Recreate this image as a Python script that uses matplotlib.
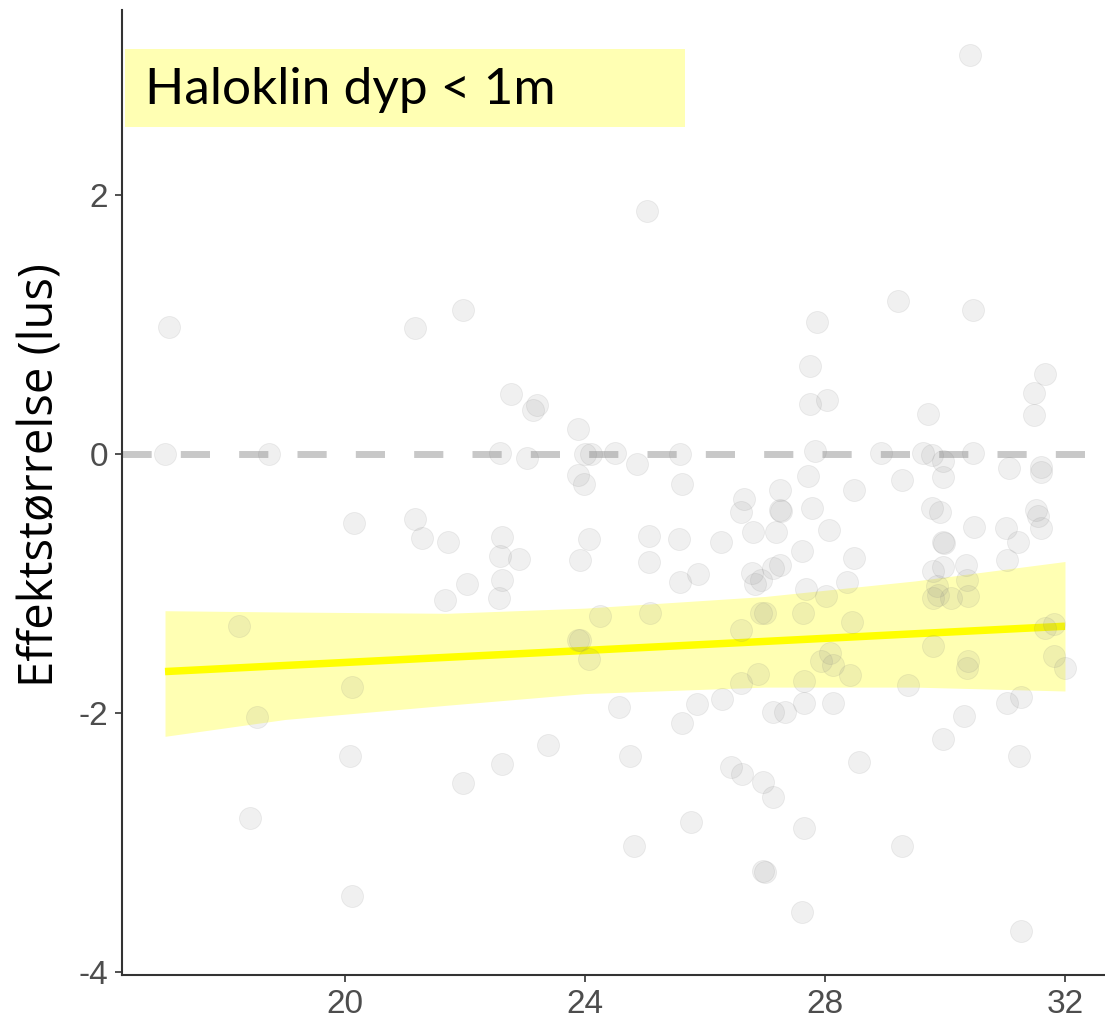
import matplotlib
matplotlib.use("Agg")
import matplotlib.pyplot as plt
from matplotlib.patches import Rectangle

salt = [17.06, 21.17, 17.00, 18.73, 20.15, 21.17, 21.29, 21.72, 21.67, 18.23,
        20.11, 18.54, 20.08, 18.42, 20.11, 21.97, 22.77, 23.14, 23.20, 23.89,
        22.58, 23.04, 24.00, 24.10, 24.50, 24.87, 25.58, 23.89, 23.98, 25.61,
        26.65, 26.60, 26.80, 22.62, 22.58, 22.90, 24.07, 23.92, 25.06, 25.06,
        25.56, 26.27, 22.62, 22.03, 22.56, 25.58, 25.89, 26.78, 26.83, 24.25,
        25.08, 26.94, 26.60, 23.88, 23.92, 24.07, 26.88, 26.60, 24.57, 25.86,
        26.29, 25.61, 23.39, 22.62, 21.97, 24.75, 26.44, 26.61, 25.77, 24.81,
        29.22, 30.46, 27.87, 27.75, 27.75, 28.03, 31.67, 31.48, 31.48, 29.72,
        27.84, 28.94, 29.64, 29.78, 29.96, 30.46, 27.72, 28.49, 29.29, 29.97,
        31.06, 31.60, 31.60, 27.25, 27.25, 27.27, 27.78, 29.78, 29.92, 31.52,
        31.55, 31.60, 27.18, 28.06, 30.49, 31.02, 31.21, 29.96, 29.98, 27.62,
        28.49, 31.04, 27.14, 27.25, 26.94, 29.80, 29.97, 30.35, 28.36, 29.86,
        29.89, 29.80, 30.36, 30.38, 30.10, 27.68, 28.02, 27.00, 27.64, 28.45,
        31.81, 31.67, 29.80, 31.81, 32.00, 30.39, 30.36, 27.94, 28.08, 28.14,
        28.42, 27.65, 29.38, 27.65, 28.14, 27.13, 27.33, 30.31, 31.03, 31.27,
        29.97, 28.57, 31.23, 26.97, 27.13, 27.65, 29.29, 26.97, 27.00, 27.62,
        31.27, 25.03, 30.42]
effect = [0.98, 0.97, 0.00, 0.00, -0.53, -0.50, -0.65, -0.68, -1.13, -1.33,
          -1.80, -2.03, -2.33, -2.81, -3.41, 1.11, 0.46, 0.34, 0.38, 0.19,
          0.01, -0.03, 0.00, 0.00, 0.01, -0.08, 0.00, -0.16, -0.23, -0.23,
          -0.35, -0.45, -0.60, -0.64, -0.79, -0.81, -0.66, -0.82, -0.63, -0.83,
          -0.66, -0.68, -0.97, -1.00, -1.11, -0.99, -0.93, -0.92, -1.00, -1.25,
          -1.23, -1.23, -1.36, -1.44, -1.44, -1.58, -1.70, -1.77, -1.95, -1.93,
          -1.89, -2.08, -2.25, -2.39, -2.54, -2.33, -2.42, -2.47, -2.84, -3.03,
          1.18, 1.11, 1.02, 0.68, 0.39, 0.42, 0.62, 0.47, 0.30, 0.31,
          0.02, 0.01, 0.01, -0.01, -0.05, 0.01, -0.17, -0.28, -0.20, -0.18,
          -0.11, -0.10, -0.14, -0.28, -0.43, -0.44, -0.42, -0.42, -0.45, -0.43,
          -0.48, -0.57, -0.60, -0.59, -0.56, -0.57, -0.68, -0.68, -0.69, -0.75,
          -0.80, -0.82, -0.88, -0.86, -0.97, -0.90, -0.87, -0.86, -0.99, -1.02,
          -1.09, -1.11, -0.97, -1.10, -1.11, -1.04, -1.10, -1.23, -1.23, -1.30,
          -1.31, -1.34, -1.48, -1.56, -1.65, -1.60, -1.65, -1.60, -1.54, -1.63,
          -1.71, -1.75, -1.78, -1.92, -1.92, -1.99, -1.99, -2.02, -1.92, -1.88,
          -2.20, -2.38, -2.33, -2.53, -2.65, -2.89, -3.03, -3.22, -3.23, -3.54,
          -3.68, 1.88, 3.08]

# fitted line and its confidence band
fit_x = [17.0, 19.0, 21.7, 24.0, 27.0, 29.5, 32.0]
fit_y = [-1.68, -1.633, -1.57, -1.517, -1.447, -1.388, -1.33]
ci_hi = [-1.21, -1.22, -1.23, -1.19, -1.10, -0.98, -0.83]
ci_lo = [-2.18, -2.05, -1.94, -1.85, -1.80, -1.80, -1.83]

xticks = [20, 24, 28, 32]
yticks = [-4, -2, 0, 2]
title = "Haloklin dyp < 1m"
ylab = "Effektstørrelse (lus)"

fig = plt.figure(figsize=(11.05, 10.24), dpi=100)
ax = fig.add_axes([0.1104, 0.0479, 0.8896, 0.9423])

ax.axhline(0, color="#c8c8c8", lw=5, dashes=(4.2, 4.2), zorder=1)
ax.fill_between(fit_x, ci_lo, ci_hi, color="#ffffb3", lw=0, zorder=2)
ax.plot(fit_x, fit_y, color="#ffff00", lw=5.4, solid_capstyle="butt", zorder=3)
ax.scatter(salt, effect, s=250, color="#8c8c8c", alpha=0.13,
           edgecolors="#7a7a7a", linewidths=0.6, zorder=4)

# label box in the top left corner
ax.add_patch(Rectangle((16.33, 2.525), 25.67 - 16.33, 3.127 - 2.525,
                       facecolor="#ffffb3", edgecolor="none", zorder=5))
ax.text(16.66, 2.81, title, fontsize=37, family="Lato", color="black",
        ha="left", va="center", zorder=6)

ax.set_xlim(16.283, 32.667)
ax.set_ylim(-4.023, 3.429)
ax.set_xticks(xticks)
ax.set_xticklabels([str(v) for v in xticks])
ax.set_yticks(yticks)
ax.set_yticklabels([str(v) for v in yticks])  # hyphen, like ggplot
ax.tick_params(length=5, width=1.2, color="#333333", labelsize=24,
               labelcolor="#4d4d4d", pad=5)
for lab in ax.get_xticklabels() + ax.get_yticklabels():
    lab.set_family("Liberation Sans")

for side in ["top", "right"]:
    ax.spines[side].set_visible(False)
for side in ["left", "bottom"]:
    ax.spines[side].set_color("#333333")
    ax.spines[side].set_linewidth(1.5)

ax.set_ylabel(ylab, fontsize=34, family="Open Sans", color="black", va="center")
ax.yaxis.set_label_coords(-0.083, 0.518)

fig.savefig("out.png", dpi=100)
